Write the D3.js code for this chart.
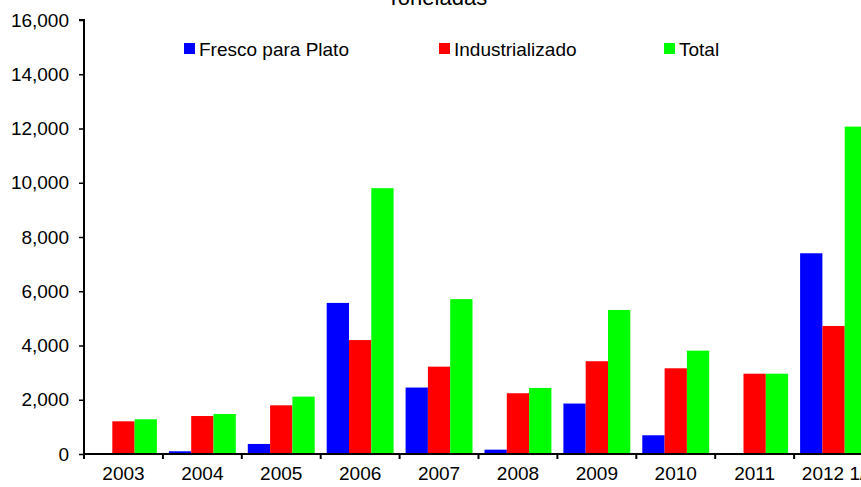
<!DOCTYPE html>
<html>
<head>
<meta charset="utf-8">
<script src="https://cdn.jsdelivr.net/npm/d3@7"></script>
<style>
	body { margin: 0; background: #fff; }
	text { font-family: "Liberation Sans", Arial, sans-serif; fill: #000; }
</style>
</head>
<body>
<div id="chart"></div>
<script>
var years = ["2003", "2004", "2005", "2006", "2007", "2008", "2009", "2010", "2011", "2012 1/"];
var seriesNames = ["Fresco para Plato", "Industrializado", "Total"];
var fresco = [10, 100, 370, 5570, 2450, 160, 1860, 690, 10, 7400];
var industrial = [1205, 1400, 1795, 4200, 3220, 2240, 3420, 3160, 2960, 4720];
var total = [1280, 1475, 2115, 9800, 5710, 2435, 5310, 3810, 2960, 12070];
var yTicks = [0, 2000, 4000, 6000, 8000, 10000, 12000, 14000, 16000];
var colors = ["#0000ff", "#ff0000", "#00ff00"];

var margin = {top: 20, right: -12, bottom: 33, left: 84},
	width = 861 - margin.left - margin.right,
	height = 487 - margin.top - margin.bottom;

var rows = years.map(function(y, i) {
	return {year: y, values: [fresco[i], industrial[i], total[i]]};
});

var x0 = d3.scaleBand().domain(years).range([0, width]).padding(0);
var x1 = d3.scaleBand().domain([0, 1, 2])
	.range([6, x0.bandwidth() - 6]).padding(0);
var y = d3.scaleLinear().domain([0, 16000]).range([height, 0]);

var svg = d3.select("#chart").append("svg")
	.attr("width", 861)
	.attr("height", 487)
  .append("g")
	.attr("transform", "translate(" + margin.left + "," + margin.top + ")");

// title, cut off at the top like the original
svg.append("text")
	.attr("x", 353)
	.attr("y", -15)
	.attr("text-anchor", "middle")
	.style("font-size", "22px")
	.text("Toneladas");

var groups = svg.selectAll(".grp")
	.data(rows)
  .enter().append("g")
	.attr("class", "grp")
	.attr("transform", function(d) { return "translate(" + x0(d.year) + ",0)"; });

groups.selectAll("rect")
	.data(function(d) { return d.values; })
  .enter().append("rect")
	.attr("x", function(d, i) { return x1(i); })
	.attr("width", x1.bandwidth())
	.attr("y", function(d) { return y(d); })
	.attr("height", function(d) { return height - y(d); })
	.attr("fill", function(d, i) { return colors[i]; });

// Y axis
var yAxis = svg.append("g")
	.call(d3.axisLeft(y).tickValues(yTicks).tickSize(5).tickPadding(10)
		.tickFormat(d3.format(",")));
yAxis.selectAll("text").style("font-size", "19px");
yAxis.select(".domain").attr("stroke-width", 2).attr("d", "M-5,0H0V" + height);
yAxis.selectAll(".tick line").attr("stroke-width", 1.5);

// X axis, ticks at the band edges
var xAxis = svg.append("g")
	.attr("transform", "translate(0," + height + ")")
	.call(d3.axisBottom(x0).tickSize(0).tickPadding(13));
xAxis.selectAll("text").style("font-size", "19px");
xAxis.select(".domain").attr("stroke-width", 2).attr("d", "M0,0H" + width);
xAxis.selectAll(".edge")
	.data(years)
  .enter().append("line")
	.attr("class", "edge")
	.attr("x1", function(d) { return x0(d); })
	.attr("x2", function(d) { return x0(d); })
	.attr("y1", 0)
	.attr("y2", 5)
	.attr("stroke", "#000")
	.attr("stroke-width", 2);

// legend
var legendX = [100, 355, 580];
var legend = svg.selectAll(".leg")
	.data(seriesNames)
  .enter().append("g")
	.attr("class", "leg")
	.attr("transform", function(d, i) { return "translate(" + legendX[i] + ",23)"; });

legend.append("rect")
	.attr("width", 11)
	.attr("height", 11)
	.attr("fill", function(d, i) { return colors[i]; });

legend.append("text")
	.attr("x", 15)
	.attr("y", 13)
	.style("font-size", "19px")
	.text(function(d) { return d; });
</script>
</body>
</html>
